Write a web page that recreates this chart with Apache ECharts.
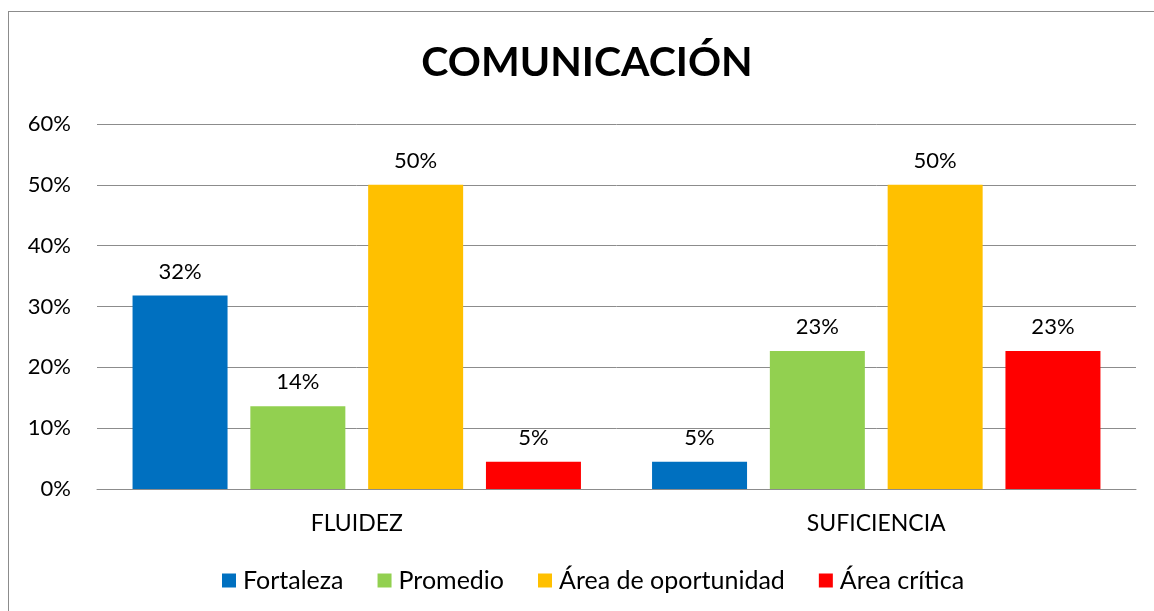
<!DOCTYPE html>
<html><head><meta charset="utf-8">
<script src="https://cdn.jsdelivr.net/npm/echarts@6/dist/echarts.min.js"></script>
<style>html,body{margin:0;padding:0;background:#fff;}#c{width:1154px;height:611px;}
#b{position:absolute;left:8px;top:11px;width:1200px;height:700px;border:1px solid #8c8c8c;pointer-events:none;}</style>
</head><body>
<div id="c"></div><div id="b"></div>
<script>
const categories = ['FLUIDEZ', 'SUFICIENCIA'];
const seriesNames = ['Fortaleza', 'Promedio', 'Área de oportunidad', 'Área crítica'];
const fortaleza = [0.318, 0.045];
const promedio = [0.136, 0.227];
const areaOportunidad = [0.5, 0.5];
const areaCritica = [0.045, 0.227];
const yTicks = [0, 0.1, 0.2, 0.3, 0.4, 0.5, 0.6];
const colors = ['#0070C0', '#92D050', '#FFC000', '#FF0000'];
const values = [fortaleza, promedio, areaOportunidad, areaCritica];
const font = 'Lato, "Open Sans", sans-serif';
const chart = echarts.init(document.getElementById('c'));
chart.setOption({
  animation: false,
  title: { text: 'COMUNICACIÓN', left: 582, top: 37, textAlign: 'center',
    textStyle: { fontFamily: font, fontWeight: 'bold', fontSize: 41, color: '#000' } },
  legend: { top: 563, left: 217, itemWidth: 14, itemHeight: 14, itemGap: 34,
    icon: 'rect', textStyle: { fontFamily: font, fontSize: 25, color: '#000', padding: [0, 0, 0, 2] }, data: seriesNames },
  grid: { left: 97, right: 18, top: 124, bottom: 122 },
  xAxis: { type: 'category', data: categories,
    axisLine: { lineStyle: { color: '#8c8c8c', width: 1 } }, axisTick: { show: false },
    axisLabel: { fontFamily: font, fontSize: 23, color: '#000', margin: 23 } },
  yAxis: { type: 'value', min: yTicks[0], max: yTicks[yTicks.length - 1], interval: 0.1,
    axisLine: { show: false }, axisTick: { show: false },
    splitLine: { lineStyle: { color: '#8c8c8c', width: 1 } },
    axisLabel: { fontFamily: font, fontSize: 22, color: '#000', margin: 26,
      formatter: v => Math.round(v * 100) + '%' } },
  series: seriesNames.map((n, i) => ({
    name: n, type: 'bar', data: values[i], barWidth: 95, barGap: '24%',
    itemStyle: { color: colors[i] },
    label: { show: true, position: 'top', distance: 13, fontFamily: font, fontSize: 22, color: '#000',
      formatter: p => Math.round(p.value * 100) + '%' }
  }))
});
</script></body></html>
